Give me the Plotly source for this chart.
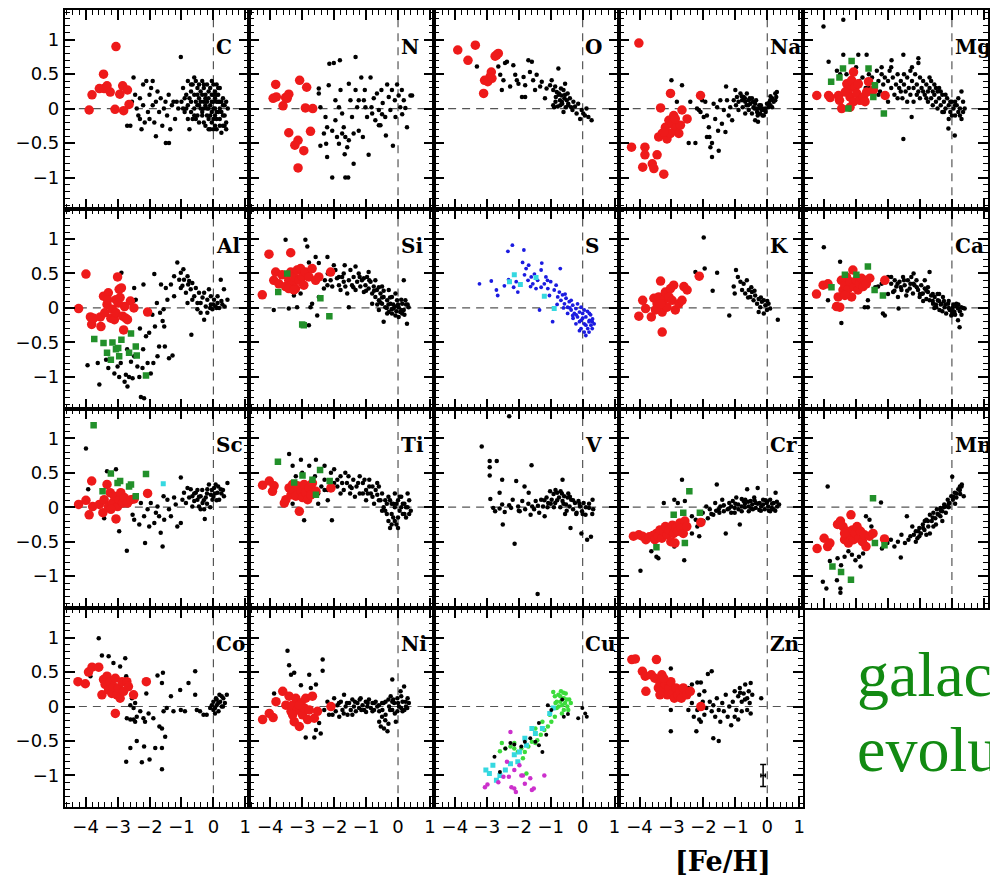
import plotly.graph_objects as go

# ---------------------------------------------------------------------------
# Abundance ratios [X/Fe] versus metallicity [Fe/H], one panel per element.
# Each list holds (x, y) = ([Fe/H], [X/Fe]) pairs.
# ---------------------------------------------------------------------------

C_RED = [(-3.89, -0.02), (-3.80, 0.20), (-3.57, 0.29), (-3.44, 0.50), (-3.42, 0.29), (-3.33, 0.33),
         (-3.23, 0.24), (-3.05, 0.90), (-3.08, -0.01), (-2.93, 0.21), (-2.84, 0.33), (-2.81, -0.03),
         (-2.69, 0.27), (-2.64, 0.06)]
C_BLACK = [(-2.7, -0.25), (-2.6, -0.25), (-2.55, 0.1), (-2.5, 0.45), (-2.45, 0.2), (-2.4, 0.0), (-2.35, -0.1),
           (-2.3, 0.15), (-2.25, -0.3), (-2.2, 0.05), (-2.2, 0.35), (-2.1, 0.4), (-2.05, -0.05), (-2.0, 0.2),
           (-2.0, -0.15), (-1.95, 0.3), (-1.9, 0.05), (-1.85, -0.2), (-1.8, 0.1), (-1.8, -0.4), (-1.75, 0.25),
           (-1.7, -0.05), (-1.65, 0.15), (-1.6, -0.25), (-1.55, 0.0), (-1.5, 0.1), (-1.45, -0.1), (-1.4, 0.2),
           (-1.35, -0.3), (-1.3, 0.05), (-1.25, 0.1), (-1.2, -0.15), (-1.15, 0.1), (-1.1, 0.0), (-1.02, 0.75),
           (-1.49, -0.5), (-1.39, -0.5), (-2.15, -0.2), (-2.3, -0.15), (-1.9, 0.4),
           (-1.0, 0.1), (-0.95, 0.3), (-0.9, -0.05), (-0.85, 0.2), (-0.8, 0.4), (-0.8, 0.05), (-0.75, -0.3),
           (-0.7, 0.25), (-0.7, 0.1), (-0.65, 0.35), (-0.6, -0.1), (-0.6, 0.2), (-0.55, 0.4), (-0.5, 0.05),
           (-0.5, 0.3), (-0.45, -0.2), (-0.45, 0.15), (-0.4, 0.25), (-0.4, 0.0), (-0.35, 0.4), (-0.35, -0.1),
           (-0.3, 0.1), (-0.3, 0.3), (-0.25, -0.25), (-0.25, 0.2), (-0.2, 0.0), (-0.2, 0.35), (-0.15, 0.15),
           (-0.15, -0.15), (-0.1, 0.3), (-0.1, 0.05), (-0.05, -0.05), (-0.05, 0.2), (0.0, -0.3), (0.0, 0.1),
           (0.05, 0.0), (0.05, 0.25), (0.1, -0.15), (0.1, 0.1), (0.15, -0.05), (0.15, 0.2), (0.2, 0.0),
           (0.2, -0.25), (0.25, 0.1), (0.3, -0.1), (0.35, 0.05), (0.4, -0.2), (-0.05, -0.2), (0.0, 0.35),
           (-0.3, -0.2), (-0.55, -0.15), (0.1, -0.3), (0.25, -0.35), (0.45, 0.0),
           (-0.6, 0.0), (-0.5, -0.1), (-0.4, 0.1), (-0.3, 0.0), (-0.2, 0.1), (-0.1, -0.1), (0.0, 0.0),
           (0.1, 0.2), (0.2, 0.1), (0.3, 0.15), (-0.15, 0.0), (0.05, 0.15), (0.1, -0.05), (-0.25, 0.05),
           (-0.35, 0.2), (-0.45, 0.35), (-0.7, -0.05), (-0.85, 0.0), (0.0, -0.15), (0.2, -0.15), (0.3, 0.05),
           (-0.1, -0.3), (0.35, -0.25), (-0.05, 0.4), (0.15, 0.3), (-0.6, 0.45), (-0.9, 0.15), (0.4, 0.1),
           (-0.95, 0.0), (-0.75, 0.15), (-0.65, -0.15), (-0.55, 0.1), (-0.45, 0.05), (-0.35, -0.05),
           (-0.25, 0.15), (-0.15, 0.25), (-0.05, 0.1), (0.05, -0.1), (0.15, 0.1), (0.25, -0.05), (0.35, -0.1),
           (-0.2, -0.1), (0.0, 0.2), (0.1, 0.35), (0.2, 0.3), (-0.3, 0.35), (-0.5, 0.2), (-0.7, 0.35),
           (0.3, -0.25), (0.05, -0.25), (-0.15, -0.3), (0.4, -0.3), (-0.8, -0.15)]

N_RED = [(-3.83, 0.35), (-3.91, 0.15), (-3.81, 0.17), (-3.60, 0.04), (-3.52, 0.16), (-3.42, 0.21),
         (-3.08, 0.41), (-2.86, 0.31), (-2.90, 0.01), (-2.67, 0.0), (-3.42, -0.35), (-3.13, -0.46),
         (-3.23, -0.53), (-2.95, -0.61), (-2.74, -0.33), (-3.13, -0.86), (-3.47, 0.15)]
N_BLACK = [(-2.15, 0.65), (-2.01, 0.66), (-1.82, 0.70), (-1.33, 0.75), (-2.48, 0.29), (-2.17, 0.34), (-2.43, 0.02),
           (-2.27, -0.12), (-2.22, -0.27), (-2.25, -0.51), (-2.43, -0.54), (-2.22, -0.70), (-2.06, -1.0),
           (-1.65, -1.0), (-1.56, -1.0), (-1.96, 0.12), (-1.85, 0.02), (-1.75, -0.07), (-1.80, 0.27),
           (-1.70, -0.27), (-1.65, -0.41), (-1.59, -0.56), (-1.67, -0.66), (-1.54, 0.36), (-1.49, 0.12),
           (-1.44, -0.12), (-1.39, -0.80), (-1.33, 0.27), (-1.28, 0.02), (-1.23, -0.32), (-1.15, 0.45),
           (-1.07, 0.12), (-1.04, 0.27), (-0.97, -0.12), (-0.92, -0.67), (-0.86, 0.45), (-0.83, 0.02),
           (-0.81, -0.07), (-0.76, 0.15), (-0.71, -0.17), (-0.66, 0.22), (-0.60, -0.02), (-0.55, -0.24),
           (-0.52, 0.27), (-0.48, 0.08), (-0.40, -0.12), (-0.38, -0.39), (-0.34, 0.35), (-0.29, 0.17),
           (-0.24, -0.02), (-0.19, 0.27), (-0.16, -0.54), (-0.10, 0.12), (-0.08, -0.12), (-0.03, 0.35),
           (0.02, 0.19), (0.07, 0.02), (0.13, -0.08), (0.18, 0.12), (0.28, -0.27), (0.39, 0.19), (0.44, 0.19),
           (-2.06, -0.32), (-1.91, -0.41), (-1.85, -0.51), (-1.75, -0.36), (-1.39, -0.36), (-1.10, -0.41),
           (-1.23, 0.12), (-1.02, 0.02), (-2.48, 0.22), (-2.32, -0.36), (-1.96, -0.17), (-1.54, -0.46),
           (-0.60, -0.24), (-0.50, -0.08), (0.23, 0.01), (0.12, 0.27)]

O_RED = [(-3.91, 0.85), (-3.59, 0.70), (-3.36, 0.92), (-2.69, 0.78), (-2.64, 0.80), (-2.86, 0.53), (-2.90, 0.46),
         (-3.07, 0.41), (-2.97, 0.39), (-3.10, 0.22), (-2.84, 0.44), (-2.74, 0.76)]
O_BLACK = [(-3.31, 0.61), (-2.64, 0.61), (-2.58, 0.49), (-2.43, 0.66), (-2.37, 0.68), (-2.53, 0.27), (-2.27, 0.32),
           (-2.17, 0.63), (-2.11, 0.49), (-2.06, 0.41), (-2.01, 0.36), (-1.90, 0.17), (-1.85, 0.46), (-1.80, 0.34),
           (-1.70, 0.70), (-1.59, 0.68), (-1.65, 0.53), (-1.55, 0.41), (-1.49, 0.27), (-1.44, 0.49), (-1.33, 0.32),
           (-1.28, 0.39), (-1.18, 0.15), (-1.13, 0.29), (-1.02, 0.34), (-0.97, 0.41), (-0.92, 0.27), (-0.86, 0.32),
           (-0.84, 0.17), (-0.81, 0.24), (-0.76, 0.58), (-0.74, 0.22), (-0.71, 0.12), (-0.68, 0.29), (-0.66, 0.19),
           (-0.64, 0.07), (-0.60, 0.27), (-0.57, 0.15), (-0.55, 0.36), (-0.53, 0.02), (-0.50, 0.12), (-0.47, 0.22),
           (-0.45, 0.07), (-0.40, 0.15), (-0.36, 0.02), (-0.32, -0.02), (-0.29, 0.10), (-0.24, 0.03),
           (-0.19, -0.07), (-0.14, 0.07), (-0.08, -0.15), (-0.03, -0.02), (0.02, -0.07), (0.07, -0.10),
           (0.12, 0.0), (0.18, -0.12), (0.28, -0.17), (-0.92, 0.05), (-0.89, 0.02), (-0.78, 0.03), (-2.48, 0.41),
           (-1.80, 0.17), (-0.85, 0.1), (-0.75, 0.2), (-0.65, 0.1), (-0.55, 0.2), (-0.45, 0.05), (-0.6, -0.05),
           (-0.7, 0.05)]

NA_RED = [(-4.02, 0.95), (-4.25, -0.56), (-3.83, -0.56), (-3.83, -0.67), (-3.90, -0.85), (-3.60, -0.80),
          (-3.55, -0.87), (-3.45, -0.67), (-3.24, -0.95), (-3.34, 0.01), (-3.03, 0.22), (-3.40, -0.41),
          (-3.29, -0.36), (-3.19, -0.27), (-3.08, -0.17), (-3.14, -0.44), (-2.98, -0.22), (-2.93, -0.10),
          (-2.88, -0.29), (-2.77, -0.36), (-2.72, -0.24), (-2.67, -0.02), (-2.51, -0.15), (-2.09, 0.19),
          (-3.03, -0.36), (-3.24, -0.34), (-2.88, -0.15)]
NA_BLACK = [(-3.0, 0.41), (-2.67, 0.34), (-2.83, 0.10), (-2.41, 0.10), (-2.46, -0.50), (-2.25, -0.50), (-2.20, 0.0),
            (-2.09, -0.05), (-2.04, 0.12), (-1.94, 0.10), (-1.89, -0.10), (-1.83, -0.27), (-1.81, -0.41),
            (-1.78, -0.56), (-1.73, -0.70), (-1.68, 0.07), (-1.63, -0.15), (-1.57, 0.02), (-1.54, -0.32),
            (-1.52, -0.61), (-1.47, 0.12), (-1.42, -0.22), (-1.36, -0.02), (-1.31, -0.34), (-1.29, 0.32),
            (-1.26, 0.12), (-1.21, -0.10), (-1.16, 0.02), (-1.10, -0.17), (-1.05, 0.12), (-1.0, 0.27),
            (-0.98, 0.05), (-0.95, 0.17), (-0.90, 0.10), (-0.84, 0.22), (-0.79, 0.12), (-0.74, 0.17),
            (-0.69, 0.10), (-0.64, 0.22), (-0.58, 0.12), (-0.53, 0.07), (-0.48, 0.15), (-0.43, 0.02),
            (-0.38, 0.07), (-0.32, -0.05), (-0.27, 0.0), (-0.22, -0.07), (-0.17, -0.02), (-0.11, -0.10),
            (-0.06, 0.0), (-0.01, 0.07), (0.04, 0.02), (0.09, 0.12), (0.15, 0.15), (0.20, 0.10), (0.25, 0.22),
            (0.30, 0.24), (0.28, 0.17), (-0.29, -0.19), (-0.38, -0.17), (-0.69, -0.07), (-0.77, 0.02),
            (-0.58, -0.02), (-0.48, -0.07), (-0.90, -0.02), (-0.22, 0.02), (-0.11, -0.02), (-1.89, -0.41),
            (-1.73, -0.50), (-1.99, -0.12), (-2.14, -0.02), (-0.6, 0.05), (-0.4, 0.0), (-0.2, 0.05),
            (-0.7, 0.15), (-0.35, 0.12), (0.1, 0.05), (-0.55, 0.15), (-0.45, 0.1), (-0.35, 0.0), (-0.25, 0.05),
            (-0.15, 0.0), (-0.05, -0.05), (0.05, 0.08), (0.15, 0.02), (0.25, 0.12), (-0.65, 0.05), (-0.8, 0.18),
            (-0.3, -0.1), (-0.15, -0.1), (0.1, 0.18)]

MG_RED = [(-4.23, 0.19), (-3.86, 0.19), (-3.81, 0.16), (-3.55, 0.19), (-3.52, 0.12), (-3.45, 0.0), (-3.29, 0.36),
          (-3.24, 0.27), (-3.19, 0.17), (-3.14, 0.41), (-3.08, 0.53), (-3.03, 0.31), (-2.98, 0.22), (-2.93, 0.36),
          (-3.08, 0.10), (-2.88, 0.12), (-2.77, 0.17), (-2.72, 0.10), (-2.67, 0.24), (-2.61, 0.39), (-2.46, 0.27),
          (-2.09, 0.19), (-3.34, 0.24), (-3.19, 0.02)]
MG_GREEN = [(-3.78, 0.39), (-3.41, 0.58), (-3.14, 0.69), (-3.52, 0.45), (-2.61, 0.58), (-2.41, 0.34), (-3.24, 0.0),
            (-2.13, -0.07), (-2.46, 0.17)]
MG_BLACK = [(-4.02, 1.19), (-3.40, 1.29), (-1.52, -0.44), (-1.26, -0.12), (-0.11, -0.29), (0.09, -0.39),
            (-3.86, 0.68), (-3.40, 0.78), (-2.93, 0.78), (-2.67, 0.78), (-1.52, 0.78), (-1.05, 0.73), (-1.05, 0.66),
            (-1.89, 0.70), (-2.6, 0.5), (-2.5, 0.45), (-2.4, 0.3), (-2.35, 0.55), (-2.3, 0.4), (-2.25, 0.25),
            (-2.2, 0.5), (-2.15, 0.35), (-2.1, 0.45), (-2.05, 0.2), (-2.0, 0.4), (-1.95, 0.55), (-1.9, 0.3),
            (-1.85, 0.45), (-1.8, 0.2), (-1.75, 0.35), (-1.7, 0.5), (-1.65, 0.3), (-1.6, 0.4), (-1.55, 0.15),
            (-1.5, 0.35), (-1.45, 0.25), (-1.4, 0.45), (-1.35, 0.3), (-1.3, 0.2), (-1.25, 0.4), (-1.2, 0.3),
            (-1.15, 0.5), (-1.1, 0.35), (-1.05, 0.25), (-1.0, 0.45), (-0.95, 0.3), (-0.9, 0.4), (-0.85, 0.2),
            (-0.8, 0.35), (-0.75, 0.25), (-0.7, 0.3), (-0.65, 0.15), (-0.6, 0.25), (-0.55, 0.2), (-0.5, 0.1),
            (-0.45, 0.25), (-0.4, 0.15), (-0.35, 0.05), (-0.3, 0.2), (-0.25, 0.1), (-0.2, 0.0), (-0.15, 0.15),
            (-0.1, 0.05), (-0.05, -0.05), (0.0, 0.1), (0.05, 0.0), (0.1, -0.1), (0.15, 0.05), (0.2, -0.05),
            (0.25, 0.0), (0.3, -0.15), (0.35, 0.1), (0.4, 0.0), (-0.3, -0.05), (-0.5, 0.3), (-1.0, 0.15),
            (-1.5, 0.5), (-2.0, 0.1), (-2.7, 0.3), (-2.8, 0.45), (-3.0, 0.6), (-3.3, 0.5), (-3.5, 0.5),
            (-3.6, 0.55), (0.3, 0.25), (0.2, 0.15), (0.0, -0.1), (-0.1, -0.15), (-0.6, 0.05), (-0.8, 0.15),
            (-1.2, 0.1), (-1.7, 0.15), (-0.4, 0.3), (-0.2, 0.2), (0.1, 0.1), (-0.7, 0.45), (-1.3, 0.55),
            (-2.9, 0.4), (-2.6, 0.3), (-2.3, 0.2), (-2.2, 0.6), (-1.9, 0.6), (-1.6, 0.25), (-1.4, 0.1),
            (-1.1, 0.2), (-0.9, 0.25), (-0.75, 0.1), (-0.55, 0.35), (-0.35, 0.25), (-0.25, -0.05), (-0.05, 0.1),
            (0.1, 0.05), (0.25, -0.1), (0.35, -0.05), (-0.45, 0.0), (-0.65, 0.4), (-1.25, 0.6)]

AL_RED = [(-4.22, -0.01), (-3.99, 0.49), (-3.85, -0.13), (-3.81, -0.24), (-3.75, -0.15), (-3.54, -0.13),
          (-3.52, -0.27), (-3.44, 0.17), (-3.40, -0.07), (-3.33, 0.05), (-3.29, 0.22), (-3.21, -0.15),
          (-3.16, -0.02), (-3.10, -0.17), (-3.05, 0.12), (-3.05, -0.07), (-3.0, 0.45), (-2.95, 0.27),
          (-2.92, 0.15), (-2.88, 0.29), (-2.84, -0.12), (-2.81, -0.32), (-2.78, 0.02), (-2.74, -0.15),
          (-2.69, -0.17), (-2.60, 0.10), (-2.49, 0.0), (-2.06, -0.06), (-3.31, 0.12), (-2.98, 0.07)]
AL_GREEN = [(-3.73, -0.45), (-3.44, -0.51), (-3.33, -0.65), (-3.16, -0.50), (-3.05, -0.60), (-2.98, -0.58),
            (-3.21, -0.75), (-2.88, -0.46), (-2.64, -0.65), (-2.58, -0.37), (-2.43, -0.56), (-2.40, -0.69),
            (-2.11, -0.98), (-2.95, -0.70)]
AL_BLACK = [(-3.94, -0.83), (-3.57, -1.11), (-3.62, -0.80), (-3.36, -0.75), (-3.29, -0.87), (-3.10, -0.95),
            (-2.95, -1.0), (-2.90, -0.80), (-2.88, 0.51), (-2.78, -1.07), (-2.74, -0.97), (-2.69, -1.14),
            (-2.64, -1.0), (-2.58, -0.78), (-2.53, -1.02), (-2.48, 0.29), (-2.48, -0.70), (-2.43, 0.12),
            (-2.38, -0.85), (-2.32, -1.0), (-2.27, -1.29), (-2.22, -0.87), (-2.19, 0.34), (-2.17, -1.31),
            (-2.11, -0.41), (-2.06, -0.80), (-2.01, -0.36), (-1.96, -0.95), (-1.91, -0.10), (-1.88, -0.80),
            (-1.85, 0.49), (-1.83, -0.27), (-1.77, 0.07), (-1.75, -0.70), (-1.70, -0.56), (-1.67, -0.07),
            (-1.64, 0.34), (-1.59, -0.19), (-1.56, -0.02), (-1.54, -0.27), (-1.52, -0.56), (-1.49, 0.29),
            (-1.44, 0.12), (-1.39, -0.73), (-1.33, 0.34), (-1.28, -0.69), (-1.23, 0.46), (-1.13, 0.66),
            (-1.07, 0.41), (-1.02, 0.51), (-0.97, 0.32), (-0.94, 0.56), (-0.92, 0.41), (-0.86, 0.22),
            (-0.81, 0.46), (-0.79, 0.34), (-0.76, 0.39), (-0.71, 0.27), (-0.69, -0.39), (-0.66, 0.36),
            (-0.60, 0.17), (-0.55, 0.29), (-0.50, 0.07), (-0.45, 0.22), (-0.40, -0.07), (-0.34, 0.15),
            (-0.29, -0.17), (-0.24, 0.02), (-0.19, 0.12), (-0.14, 0.27), (-0.08, 0.05), (-0.03, -0.02),
            (0.02, 0.12), (0.07, 0.02), (0.13, 0.07), (0.18, 0.0), (0.23, 0.41), (0.28, 0.05), (0.33, 0.27),
            (0.44, 0.12), (-0.19, -0.07), (-0.40, 0.07), (-0.50, -0.02), (-0.29, 0.22), (0.13, 0.17),
            (-0.08, 0.17), (-0.66, 0.12), (-0.81, 0.07), (-1.02, 0.29), (-1.23, 0.17), (-2.5, 0.1),
            (-2.3, -0.3), (-2.7, -0.6), (-3.0, -0.85), (-2.2, -0.6), (0.0, 0.05), (0.1, 0.0), (0.25, 0.1),
            (-0.1, 0.0), (0.35, 0.02)]

SI_RED = [(-4.25, 0.19), (-4.04, 0.78), (-3.36, 0.80), (-3.89, 0.40), (-3.83, 0.52), (-3.73, 0.35), (-3.63, 0.48),
          (-3.52, 0.31), (-3.42, 0.40), (-3.36, 0.52), (-3.31, 0.35), (-3.26, 0.45), (-3.21, 0.28), (-3.16, 0.55),
          (-3.10, 0.40), (-3.05, 0.57), (-3.0, 0.45), (-2.95, 0.33), (-2.90, 0.52), (-2.79, 0.45), (-2.69, 0.57),
          (-2.58, 0.40), (-2.48, 0.45), (-2.11, 0.52), (-3.42, 0.28), (-3.26, 0.26)]
SI_GREEN = [(-3.75, 0.23), (-3.47, 0.50), (-2.43, 0.14), (-2.15, -0.12), (-3.0, -0.24), (-2.95, -0.25)]
SI_BLACK = [(-3.52, 0.99), (-2.90, 0.99), (-2.84, 0.89), (-2.58, 0.74), (-2.21, 0.74), (-2.48, 0.65), (-2.79, 0.66),
            (-3.89, -0.03), (-3.42, -0.01), (-3.16, 0.01), (-2.74, 0.01), (-2.69, 0.06), (-2.53, -0.11),
            (-2.79, -0.25), (-3.26, 0.18), (-3.05, 0.21), (-2.48, 0.16), (-2.32, 0.28), (-2.29, 0.40),
            (-2.21, 0.33), (-2.11, 0.40), (-2.06, 0.31), (-1.96, 0.55), (-1.91, 0.43), (-1.85, 0.33),
            (-1.80, 0.26), (-1.75, 0.45), (-1.70, 0.38), (-1.67, 0.62), (-1.65, 0.31), (-1.59, 0.21),
            (-1.54, 0.40), (-1.49, 0.55), (-1.44, 0.33), (-1.39, 0.45), (-1.33, 0.26), (-1.28, 0.38),
            (-1.23, 0.50), (-1.18, 0.31), (-1.13, 0.40), (-1.07, 0.23), (-1.02, 0.33), (-0.97, 0.45),
            (-0.92, 0.28), (-0.86, 0.38), (-0.81, 0.21), (-0.76, 0.31), (-0.71, 0.16), (-0.66, 0.26),
            (-0.60, 0.11), (-0.55, 0.21), (-0.50, 0.06), (-0.45, 0.16), (-0.40, 0.01), (-0.34, 0.11),
            (-0.29, -0.06), (-0.24, 0.06), (-0.19, 0.16), (-0.14, -0.01), (-0.08, -0.11), (-0.03, 0.11),
            (0.02, 0.01), (0.07, -0.06), (0.13, 0.06), (0.18, 0.40), (0.23, 0.11), (0.28, -0.23), (0.33, 0.01),
            (-0.45, -0.20), (0.02, -0.13), (-0.60, -0.03), (-0.81, 0.06), (-0.34, -0.08), (-0.19, -0.08),
            (0.13, -0.08), (0.18, -0.03), (-1.54, 0.01), (-2.01, 0.62), (-1.33, 0.60), (-0.92, 0.52),
            (-0.71, 0.40), (-0.50, 0.31), (-0.29, 0.26), (-0.08, 0.21), (-1.07, 0.43), (-0.3, 0.05),
            (-0.1, 0.02), (0.1, 0.12), (-0.2, -0.02), (0.25, 0.05), (-0.55, 0.08),
            (-1.7, 0.5), (-1.4, 0.3), (-1.2, 0.45), (-1.0, 0.25), (-0.9, 0.4), (-0.75, 0.25), (-0.6, 0.3),
            (-0.45, 0.25), (-0.35, 0.0), (-0.25, 0.15), (-0.15, 0.05), (0.0, 0.05), (0.1, -0.03), (0.2, -0.1),
            (0.3, 0.05), (-0.05, -0.05), (-0.5, 0.15), (-0.65, 0.05), (-1.85, 0.45), (-2.2, 0.5)]

S_BLUE = [(-3.23, 0.35), (-2.86, 0.39), (-2.70, 0.26), (-2.66, 0.18), (-2.45, 0.32), (-2.34, 0.82), (-2.32, 0.41),
          (-2.20, 0.91), (-2.16, 0.30), (-2.08, 0.38), (-2.03, 0.23), (-1.88, 0.66), (-1.84, 0.84), (-1.82, 0.48),
          (-1.77, 0.57), (-1.71, 0.40), (-1.69, 0.62), (-1.63, 0.31), (-1.61, 0.45), (-1.56, 0.35), (-1.51, 0.49),
          (-1.46, 0.28), (-1.41, 0.40), (-1.35, -0.03), (-1.30, 0.55), (-1.28, 0.65), (-1.20, 0.35), (-1.15, 0.45),
          (-1.09, 0.28), (-1.04, 0.18), (-1.0, 0.38), (-0.94, -0.20), (-0.89, 0.26), (-0.83, 0.33), (-0.78, 0.16),
          (-0.73, 0.23), (-0.70, 0.57), (-0.68, 0.11), (-0.63, 0.19), (-0.57, 0.06), (-0.52, 0.14), (-0.47, 0.01),
          (-0.42, 0.09), (-0.36, -0.03), (-0.31, 0.04), (-0.26, -0.08), (-0.21, -0.01), (-0.16, -0.13),
          (-0.10, -0.06), (-0.05, -0.18), (0.0, -0.08), (0.05, -0.23), (0.10, -0.13), (0.16, -0.30),
          (0.21, -0.18), (0.26, -0.25), (0.31, -0.16), (0.36, -0.23), (0.10, -0.40), (-0.10, -0.33),
          (-0.21, -0.23), (-0.05, 0.01), (0.05, -0.03), (0.21, -0.08), (-0.36, 0.11), (-0.16, 0.06),
          (-0.31, -0.11), (-0.47, -0.08), (-0.2, -0.1), (-0.1, -0.2), (0.0, -0.15), (0.1, -0.25), (0.2, -0.2),
          (0.3, -0.3), (0.25, -0.1), (0.15, -0.05), (-0.05, -0.3), (0.05, -0.35), (-0.3, -0.15), (-0.4, 0.0),
          (0.3, -0.2), (0.2, -0.35), (-0.6, 0.0), (-0.55, 0.2), (-0.8, 0.05), (-1.1, 0.4), (-1.3, 0.3)]
S_CYAN = [(-2.14, 0.48), (-1.95, 0.34), (-1.46, 0.44), (-1.20, 0.17), (-0.89, -0.01), (-2.29, 0.38)]

K_RED = [(-4.02, -0.12), (-3.90, 0.11), (-3.81, -0.01), (-3.63, -0.13), (-3.55, 0.14), (-3.45, 0.06), (-3.40, 0.16),
         (-3.34, 0.39), (-3.29, -0.06), (-3.29, -0.35), (-3.24, 0.11), (-3.19, 0.23), (-3.14, 0.01), (-3.08, 0.16),
         (-3.03, 0.28), (-2.98, 0.11), (-2.93, 0.33), (-2.88, -0.03), (-2.77, 0.06), (-2.67, 0.11), (-2.61, 0.31),
         (-2.51, 0.26), (-2.13, 0.46), (-3.50, -0.03), (-3.34, 0.06)]
K_BLACK = [(-1.99, 1.02), (-2.25, 0.52), (-1.96, 0.57), (-1.57, 0.51), (-1.71, 0.25), (-1.19, -0.11), (-0.98, 0.55),
           (-1.05, 0.31), (-0.92, 0.45), (-0.84, 0.38), (-0.79, 0.26), (-0.74, 0.35), (-0.69, 0.21), (-0.64, 0.40),
           (-0.58, 0.26), (-0.53, 0.16), (-0.48, 0.23), (-0.43, 0.11), (-0.38, 0.18), (-0.32, 0.06), (-0.27, 0.13),
           (-0.22, 0.01), (-0.17, 0.09), (-0.11, -0.08), (-0.06, 0.04), (-0.01, -0.03), (0.04, 0.06),
           (0.09, -0.01), (0.33, -0.17), (-0.27, -0.06), (-0.11, 0.11), (-1.02, 0.21), (-0.6, 0.15),
           (-0.4, 0.25), (-0.2, 0.15), (-0.5, 0.3), (0.0, 0.1)]

CA_RED = [(-4.24, 0.20), (-4.03, 0.33), (-3.88, 0.35), (-3.56, 0.16), (-3.51, 0.01), (-3.61, 0.02), (-3.46, 0.40),
          (-3.41, 0.26), (-3.35, 0.33), (-3.30, 0.45), (-3.24, 0.28), (-3.19, 0.38), (-3.14, 0.16), (-3.10, 0.55),
          (-3.06, 0.31), (-2.99, 0.40), (-2.94, 0.26), (-2.89, 0.35), (-2.83, 0.43), (-2.78, 0.31), (-2.73, 0.40),
          (-2.68, 0.35), (-2.57, 0.43), (-2.10, 0.40), (-3.35, 0.18)]
CA_GREEN = [(-2.63, 0.60), (-3.77, 0.30), (-2.42, 0.26), (-2.16, 0.18), (-2.99, 0.48), (-3.35, 0.48)]
CA_BLACK = [(-4.01, 0.88), (-3.46, -0.22), (-3.50, 0.67), (-3.88, 0.11), (-2.63, 0.01), (-2.73, 0.01), (-2.63, 0.11),
            (-2.16, -0.08), (-2.10, -0.11), (-2.31, 0.31), (-2.0, 0.45), (-1.90, 0.35), (-1.84, 0.23),
            (-1.79, 0.40), (-1.74, 0.31), (-1.69, 0.16), (-1.67, -0.01), (-1.64, 0.38), (-1.58, 0.26),
            (-1.53, 0.45), (-1.48, 0.33), (-1.43, 0.18), (-1.38, 0.40), (-1.32, 0.28), (-1.27, 0.45),
            (-1.22, 0.21), (-1.17, 0.33), (-1.11, 0.40), (-1.06, 0.26), (-1.01, 0.16), (-0.96, 0.33),
            (-0.91, 0.21), (-0.85, 0.28), (-0.80, 0.13), (-0.75, 0.23), (-0.70, 0.52), (-0.70, 0.11),
            (-0.65, 0.18), (-0.59, 0.06), (-0.54, 0.16), (-0.49, 0.01), (-0.44, 0.11), (-0.39, -0.03),
            (-0.33, 0.06), (-0.28, 0.16), (-0.23, 0.01), (-0.18, -0.08), (-0.12, 0.06), (-0.07, -0.03),
            (-0.02, -0.11), (0.03, 0.01), (0.08, -0.06), (0.14, 0.06), (0.19, -0.01), (0.24, -0.28),
            (0.29, 0.01), (0.40, -0.01), (0.19, -0.18), (-1.2, 0.35), (-1.0, 0.2), (-0.8, 0.25), (-0.6, 0.2),
            (-0.4, 0.1), (-0.2, 0.05), (0.0, -0.05), (0.2, 0.05), (-1.6, 0.3), (-1.8, 0.25), (-0.9, 0.1),
            (-0.5, 0.05), (-0.3, -0.05), (0.1, -0.1), (0.3, -0.1), (-2.2, 0.35), (-2.4, 0.3), (-2.0, 0.2),
            (-0.1, 0.0), (0.05, 0.05), (-0.45, 0.2), (-1.4, 0.25),
            (-1.9, 0.45), (-1.7, 0.35), (-1.5, 0.4), (-1.3, 0.35), (-1.1, 0.3), (-0.95, 0.2), (-0.75, 0.3),
            (-0.6, 0.1), (-0.4, 0.2), (-0.25, 0.1), (-0.1, 0.1), (0.05, -0.05), (0.15, 0.02), (0.25, -0.05),
            (0.35, 0.0), (-0.55, 0.0), (-0.35, 0.05), (0.0, -0.1), (-1.2, 0.5), (-0.85, 0.4)]

SC_RED = [(-4.22, 0.04), (-3.99, 0.10), (-3.89, -0.11), (-3.81, 0.38), (-3.78, 0.01), (-3.57, 0.04), (-3.46, -0.08),
          (-3.42, 0.11), (-3.33, 0.33), (-3.29, 0.01), (-3.23, 0.21), (-3.16, 0.06), (-3.10, 0.16), (-3.05, -0.17),
          (-3.0, 0.01), (-2.95, 0.11), (-2.90, 0.21), (-2.84, 0.06), (-2.79, 0.14), (-2.69, 0.06), (-2.58, 0.11),
          (-2.48, 0.12), (-2.06, 0.20), (-3.21, -0.03)]
SC_GREEN = [(-3.75, 1.19), (-3.47, 0.23), (-3.21, 0.49), (-3.0, 0.35), (-2.92, 0.38), (-2.64, 0.30), (-2.58, 0.33),
            (-2.43, 0.16), (-2.11, 0.48)]
SC_CYAN = [(-1.57, 0.34)]
SC_BLACK = [(-3.99, 0.85), (-3.92, 0.26), (-3.42, -0.16), (-3.33, 0.52), (-3.05, 0.55), (-2.95, -0.35),
            (-2.71, -0.63), (-2.53, -0.11), (-2.48, -0.18), (-2.32, -0.25), (-2.27, 0.06), (-2.17, -0.13),
            (-2.14, -0.52), (-2.06, -0.03), (-2.01, -0.28), (-1.96, 0.06), (-1.85, -0.23), (-1.80, -0.08),
            (-1.75, 0.01), (-1.70, -0.13), (-1.65, -0.37), (-1.59, -0.57), (-1.56, 0.16), (-1.54, -0.18),
            (-1.44, 0.11), (-1.39, -0.03), (-1.33, -0.13), (-1.23, 0.14), (-1.18, 0.04), (-1.13, -0.28),
            (-1.02, 0.43), (-1.02, -0.23), (-0.97, 0.11), (-0.92, 0.21), (-0.86, 0.06), (-0.81, 0.28),
            (-0.76, 0.14), (-0.71, 0.26), (-0.66, 0.16), (-0.60, 0.09), (-0.55, 0.21), (-0.50, 0.11),
            (-0.45, 0.01), (-0.40, 0.16), (-0.34, 0.06), (-0.29, -0.03), (-0.24, 0.14), (-0.19, 0.26),
            (-0.14, 0.33), (-0.08, 0.18), (-0.03, 0.11), (0.02, 0.28), (0.07, 0.33), (0.13, 0.21), (0.18, 0.11),
            (0.23, 0.26), (0.33, 0.16), (0.44, 0.35), (-0.27, -0.17), (-0.40, -0.03), (-0.66, 0.01),
            (-0.2, 0.05), (0.0, 0.15), (-0.5, 0.25), (-0.1, 0.0), (0.25, 0.2), (-0.6, 0.2), (-0.45, 0.15),
            (-0.3, 0.1), (-0.2, 0.2), (-0.05, 0.25), (0.05, 0.2), (0.15, 0.3), (0.3, 0.25), (-0.35, 0.25),
            (0.1, 0.1)]

TI_RED = [(-4.24, 0.32), (-4.03, 0.38), (-3.88, 0.31), (-3.93, 0.23), (-3.56, 0.06), (-3.51, 0.11), (-3.41, 0.28),
          (-3.35, 0.18), (-3.30, 0.33), (-3.25, 0.23), (-3.20, 0.16), (-3.15, 0.31), (-3.09, -0.06), (-3.04, 0.23),
          (-2.99, 0.14), (-2.94, 0.33), (-2.89, 0.21), (-2.83, 0.11), (-2.78, 0.28), (-2.73, 0.18), (-2.68, 0.35),
          (-2.57, 0.23), (-2.10, 0.28)]
TI_GREEN = [(-3.76, 0.66), (-3.25, 0.36), (-2.99, 0.46), (-2.68, 0.40), (-2.44, 0.54), (-2.57, 0.18), (-2.14, 0.38)]
TI_BLACK = [(-3.41, 0.77), (-3.30, 0.60), (-3.04, 0.69), (-2.78, 0.60), (-2.57, 0.69), (-2.94, -0.19), (-2.07, -0.19),
            (-2.4, 0.3), (-2.3, 0.4), (-2.2, 0.25), (-2.1, 0.5), (-2.0, 0.35), (-1.9, 0.3), (-1.8, 0.45),
            (-1.7, 0.25), (-1.6, 0.35), (-1.5, 0.2), (-1.4, 0.4), (-1.3, 0.3), (-1.2, 0.2), (-1.1, 0.35),
            (-1.0, 0.25), (-0.9, 0.3), (-0.8, 0.15), (-0.7, 0.25), (-0.6, 0.1), (-0.5, 0.2), (-0.45, 0.0),
            (-0.4, 0.1), (-0.35, -0.1), (-0.3, -0.2), (-0.25, -0.3), (-0.2, 0.05), (-0.15, -0.15), (-0.1, 0.0),
            (-0.05, -0.25), (0.0, 0.1), (0.05, -0.05), (0.1, 0.0), (0.15, -0.1), (0.2, 0.05), (0.25, -0.15),
            (0.3, 0.0), (0.35, 0.1), (0.4, -0.05), (-0.6, 0.3), (-0.9, 0.4), (-1.2, 0.45), (-1.5, 0.3),
            (-1.8, 0.2), (-2.2, 0.1), (-2.5, 0.2), (-0.5, -0.05), (-0.3, 0.15), (-0.1, 0.2), (0.1, 0.15),
            (0.3, 0.2), (-0.2, -0.25), (0.0, -0.15), (-1.0, 0.1), (-0.75, 0.05), (-1.35, 0.15), (-1.65, 0.5),
            (-2.0, 0.55), (-2.3, 0.6), (-2.6, 0.45), (-2.8, 0.1), (-3.0, 0.5), (-3.2, 0.45), (-3.3, 0.05),
            (-2.5, 0.05), (-1.1, 0.2), (-0.85, 0.2), (-0.65, 0.18), (-0.4, -0.05), (-0.15, 0.05), (0.2, -0.1),
            (-1.45, 0.28), (-1.75, 0.35), (-1.9, 0.4), (-1.55, 0.45), (-1.25, 0.35), (-0.95, 0.2), (-0.65, 0.35),
            (-0.55, 0.1), (-0.35, 0.05), (-0.25, 0.1), (-0.05, 0.05), (0.05, 0.15), (0.15, 0.05), (0.25, 0.0),
            (0.35, -0.1), (-0.2, -0.1), (0.0, -0.3), (-0.1, -0.2), (-1.05, 0.4), (-0.8, 0.3), (-2.1, 0.3),
            (-2.3, 0.25)]

V_BLACK = [(-3.16, 0.88), (-2.30, 1.32), (-2.91, 0.67), (-2.69, 0.67), (-2.91, 0.58), (-2.91, 0.46), (-2.52, 0.40),
           (-2.08, 0.38), (-1.60, 0.61), (-2.89, 0.12), (-2.80, -0.01), (-2.74, -0.06), (-2.60, 0.21), (-2.52, 0.04),
           (-2.50, -0.25), (-2.44, -0.07), (-2.24, -0.01), (-2.19, 0.11), (-2.13, -0.53), (-2.02, 0.01),
           (-1.97, -0.06), (-1.89, 0.09), (-1.82, 0.30), (-1.80, -0.03), (-1.69, 0.21), (-1.63, -0.11),
           (-1.58, 0.01), (-1.52, -0.03), (-1.47, 0.09), (-1.41, -1.26), (-1.36, -0.08), (-1.30, 0.11),
           (-1.24, 0.01), (-1.19, -0.13), (-1.13, 0.14), (-1.08, 0.06), (-1.02, 0.23), (-0.97, 0.11),
           (-0.91, 0.19), (-0.86, 0.06), (-0.80, 0.21), (-0.74, 0.14), (-0.69, 0.23), (-0.63, 0.40),
           (-0.63, 0.09), (-0.58, 0.16), (-0.52, 0.04), (-0.47, 0.14), (-0.41, 0.01), (-0.38, -0.30),
           (-0.36, 0.11), (-0.30, -0.03), (-0.24, 0.06), (-0.19, -0.08), (-0.13, 0.09), (-0.08, 0.01),
           (-0.04, -0.38), (-0.02, -0.06), (0.03, 0.06), (0.09, -0.11), (0.14, -0.47), (0.20, -0.01),
           (0.26, -0.43), (0.31, 0.11), (0.33, -0.03), (-1.0, 0.05), (-0.9, 0.0), (-0.8, 0.1), (-0.7, 0.0),
           (-0.6, 0.05), (-0.5, -0.05), (-0.4, 0.15), (-0.3, 0.1), (-0.2, -0.1), (-0.1, 0.05), (0.0, -0.1),
           (0.1, 0.0), (0.2, 0.05), (0.3, -0.1), (-0.65, 0.2), (-0.85, 0.25), (-0.55, -0.1), (-0.45, 0.2),
           (-1.1, 0.0), (-1.2, 0.1), (-1.4, 0.02), (-1.7, 0.05), (-2.0, -0.05), (-2.3, 0.03), (-2.6, -0.02)]

CR_RED = [(-4.19, -0.42), (-4.02, -0.40), (-3.91, -0.42), (-3.80, -0.47), (-3.69, -0.43), (-3.58, -0.41),
          (-3.52, -0.47), (-3.47, -0.38), (-3.41, -0.42), (-3.36, -0.33), (-3.30, -0.45), (-3.24, -0.35),
          (-3.19, -0.28), (-3.13, -0.40), (-3.08, -0.33), (-3.02, -0.50), (-2.97, -0.26), (-2.93, -0.38),
          (-2.89, -0.52), (-2.86, -0.30), (-2.80, -0.35), (-2.74, -0.23), (-2.69, -0.30), (-2.63, -0.38),
          (-2.58, -0.20), (-2.52, -0.28), (-2.08, -0.22)]
CR_GREEN = [(-2.44, 0.23), (-2.93, -0.11), (-2.63, -0.08), (-2.11, -0.08), (-2.58, -0.52), (-3.47, -0.58)]
CR_BLACK = [(-3.97, -0.92), (-3.63, -0.64), (-3.47, -0.72), (-3.41, -0.74), (-2.67, 0.40), (-2.60, -0.77),
            (-3.24, 0.06), (-2.91, 0.11), (-2.80, 0.06), (-2.58, 0.09), (-2.36, -0.38), (-2.24, -0.18),
            (-2.13, -0.42), (-2.02, -0.08), (-1.91, 0.01), (-1.86, -0.16), (-1.80, -0.03), (-1.69, -0.11),
            (-1.63, 0.06), (-1.58, 0.33), (-1.52, -0.03), (-1.47, 0.01), (-1.41, 0.11), (-1.36, 0.03),
            (-1.30, -0.38), (-1.24, -0.03), (-1.19, 0.06), (-1.13, 0.01), (-1.08, 0.09), (-1.02, -0.01),
            (-0.97, 0.14), (-0.91, 0.04), (-0.86, -0.25), (-0.80, 0.01), (-0.74, 0.09), (-0.69, 0.11),
            (-0.63, 0.26), (-0.58, 0.01), (-0.52, 0.09), (-0.47, 0.04), (-0.41, 0.14), (-0.36, -0.01),
            (-0.30, 0.28), (-0.24, 0.06), (-0.19, 0.01), (-0.13, 0.11), (-0.08, -0.03), (-0.02, 0.06),
            (0.03, 0.01), (0.09, 0.11), (0.14, -0.01), (0.20, 0.06), (0.26, 0.21), (0.31, 0.01), (0.37, 0.04),
            (-1.02, -0.08), (-0.8, -0.06), (-0.58, -0.06), (-0.36, 0.06), (-0.13, 0.04), (0.09, -0.06),
            (-1.36, -0.06), (-1.13, -0.08), (-2.36, -0.13), (-2.19, -0.28), (-2.91, -0.57), (-0.7, 0.0),
            (-0.5, -0.02), (-0.25, -0.04), (0.0, 0.08), (0.25, -0.05), (-1.6, -0.05),
            (-1.5, -0.08), (-1.2, -0.02), (-1.0, 0.05), (-0.9, -0.03), (-0.7, 0.05), (-0.6, 0.08), (-0.45, -0.03),
            (-0.3, 0.05), (-0.2, -0.05), (-0.05, 0.1), (0.05, -0.05), (0.15, 0.05), (0.3, 0.08), (0.2, -0.03),
            (-0.4, 0.1), (-0.8, 0.12), (-1.75, -0.1), (-2.0, -0.2)]

MN_RED = [(-4.22, -0.60), (-4.0, -0.45), (-3.89, -0.57), (-3.82, -0.52), (-3.58, -0.25), (-3.49, -0.20),
          (-3.41, -0.28), (-3.36, -0.47), (-3.30, -0.35), (-3.24, -0.52), (-3.19, -0.40), (-3.16, -0.11),
          (-3.11, -0.33), (-3.08, -0.47), (-3.02, -0.38), (-2.97, -0.28), (-2.91, -0.45), (-2.86, -0.35),
          (-2.80, -0.50), (-2.74, -0.40), (-2.69, -0.57), (-2.58, -0.42), (-2.47, -0.38), (-2.11, -0.46),
          (-3.36, -0.38)]
MN_GREEN = [(-2.47, 0.13), (-3.74, -0.86), (-3.47, -0.94), (-3.16, -1.05), (-2.41, -0.52), (-2.11, -0.55)]
MN_BLACK = [(-3.89, 0.30), (-4.04, -1.08), (-3.93, -1.18), (-3.60, -1.06), (-3.49, -1.18), (-3.49, -1.24),
            (-3.82, -0.78), (-3.58, -0.74), (-3.47, -0.84), (-3.36, -0.72), (-3.24, -0.64), (-3.13, -0.69),
            (-3.02, -0.77), (-2.91, -0.72), (-2.86, -0.86), (-2.78, -0.67), (-2.69, -0.13), (-2.58, -0.18),
            (-2.52, -0.28), (-2.22, 0.07), (-2.19, -0.60), (-2.02, -0.52), (-1.91, -0.47), (-1.80, -0.57),
            (-1.69, -0.50), (-1.60, -0.73), (-1.58, -0.40), (-1.47, -0.52), (-1.41, -0.13), (-1.36, -0.47),
            (-1.30, -0.42), (-1.24, -0.28), (-1.19, -0.40), (-1.13, -0.35), (-1.08, -0.45), (-1.02, -0.30),
            (-0.97, -0.38), (-0.91, -0.25), (-0.86, -0.33), (-0.80, -0.18), (-0.74, -0.28), (-0.69, -0.11),
            (-0.63, -0.20), (-0.58, -0.08), (-0.52, -0.16), (-0.47, -0.03), (-0.41, -0.11), (-0.36, -0.01),
            (-0.30, -0.06), (-0.24, 0.04), (-0.19, 0.01), (-0.13, 0.11), (-0.08, 0.06), (-0.02, 0.16),
            (0.01, 0.44), (0.03, 0.11), (0.09, 0.21), (0.14, 0.14), (0.20, 0.26), (0.26, 0.19), (0.31, 0.33),
            (0.37, 0.16), (-0.69, -0.38), (-0.58, -0.28), (-0.80, -0.40), (-1.02, -0.42), (-0.36, -0.13),
            (-0.19, -0.08), (-1.13, -0.50), (-0.5, -0.25), (-0.3, -0.2), (-0.1, 0.0), (0.1, 0.05), (0.25, 0.3),
            (-0.85, -0.2), (-0.6, -0.15), (-0.45, -0.1), (-0.35, -0.05), (-0.25, 0.0), (-0.1, 0.05),
            (0.05, 0.15), (0.15, 0.2), (0.25, 0.25), (0.3, 0.3), (-0.75, -0.2), (-0.9, -0.3), (-1.05, -0.35)]

CO_RED = [(-4.24, 0.36), (-4.01, 0.33), (-3.91, 0.50), (-3.80, 0.57), (-3.59, 0.57), (-3.49, 0.17), (-3.44, 0.39),
          (-3.39, 0.32), (-3.33, 0.44), (-3.28, 0.24), (-3.23, 0.36), (-3.18, 0.19), (-3.13, 0.29), (-3.07, 0.41),
          (-3.07, -0.10), (-3.02, 0.17), (-2.97, 0.27), (-2.92, 0.12), (-2.86, 0.36), (-2.81, 0.22), (-2.71, 0.36),
          (-2.66, 0.29), (-2.50, 0.17), (-2.10, 0.36)]
CO_BLACK = [(-3.59, 0.99), (-3.49, 0.74), (-3.28, 0.73), (-3.13, 0.63), (-2.76, 0.70), (-3.85, 0.44), (-2.92, 0.58),
            (-2.73, 0.44), (-2.60, 0.02), (-2.55, 0.12), (-2.50, -0.02), (-2.45, 0.05), (-2.71, -0.17),
            (-2.60, -0.19), (-2.50, -0.19), (-2.45, -0.22), (-2.40, -0.15), (-2.29, -0.07), (-2.19, -0.17),
            (-2.14, -0.22), (-2.10, 0.19), (-2.03, -0.10), (-1.88, -0.17), (-1.75, 0.45), (-1.69, -0.29),
            (-1.61, -0.32), (-1.61, 0.34), (-1.58, 0.49), (-1.56, -0.07), (-1.51, -0.44), (-2.60, -0.60),
            (-2.40, -0.50), (-2.17, -0.58), (-2.0, -0.77), (-1.82, -0.60), (-1.61, -0.60), (-1.61, -0.91),
            (-2.73, -0.80), (-2.24, -0.81), (-1.46, -0.02), (-1.33, 0.15), (-1.25, -0.07), (-1.04, 0.24),
            (-1.02, -0.05), (-0.89, -0.07), (-0.78, 0.34), (-0.57, 0.51), (-0.57, 0.17), (-0.52, -0.05),
            (-0.42, -0.07), (-0.31, -0.12), (-0.21, -0.12), (-0.10, -0.02), (-0.05, 0.02), (0.0, 0.07),
            (0.05, -0.02), (0.08, 0.12), (0.10, 0.02), (0.16, -0.07), (0.19, 0.17), (0.21, 0.07), (0.26, 0.0),
            (0.31, 0.12), (0.36, 0.05), (0.42, 0.17), (0.05, -0.10), (0.26, 0.15), (0.0, -0.05), (0.15, 0.05),
            (0.3, 0.0), (0.1, 0.1)]

NI_RED = [(-4.24, -0.19), (-4.03, -0.10), (-3.91, -0.16), (-3.82, 0.07), (-3.61, 0.22), (-3.51, 0.02), (-3.41, 0.15),
          (-3.35, -0.07), (-3.30, 0.02), (-3.25, -0.22), (-3.20, 0.12), (-3.15, -0.05), (-3.09, -0.29),
          (-3.04, 0.05), (-2.99, -0.12), (-2.94, -0.02), (-2.89, 0.12), (-2.83, -0.19), (-2.78, -0.05),
          (-2.68, 0.15), (-2.62, -0.17), (-2.52, -0.07), (-2.10, 0.0), (-3.30, -0.12), (-3.09, 0.02)]
NI_BLACK = [(-3.46, 0.81), (-3.41, 0.60), (-3.35, 0.46), (-3.25, 0.49), (-2.78, 0.46), (-2.36, 0.68), (-2.36, 0.52),
            (-3.88, 0.19), (-3.04, 0.31), (-2.57, 0.32), (-2.73, 0.27), (-2.89, -0.45), (-2.62, -0.45),
            (-2.42, -0.39), (-2.57, -0.34), (-2.47, -0.24), (-2.31, -0.05), (-2.21, 0.07), (-2.16, -0.12),
            (-2.05, -0.02), (-2.0, 0.12), (-1.95, -0.07), (-1.90, 0.02), (-1.84, -0.15), (-1.79, 0.07),
            (-1.74, -0.05), (-1.69, 0.17), (-1.64, 0.0), (-1.58, -0.12), (-1.53, 0.05), (-1.48, -0.05),
            (-1.43, 0.10), (-1.38, 0.0), (-1.32, -0.07), (-1.27, 0.05), (-1.22, -0.02), (-1.17, 0.12),
            (-1.11, 0.02), (-1.06, -0.05), (-1.01, 0.07), (-0.96, 0.0), (-0.91, 0.10), (-0.85, -0.02),
            (-0.80, 0.05), (-0.75, -0.05), (-0.70, 0.07), (-0.65, 0.0), (-0.59, -0.22), (-0.54, -0.29),
            (-0.49, -0.05), (-0.44, -0.32), (-0.39, 0.07), (-0.33, -0.36), (-0.28, 0.0), (-0.23, 0.15),
            (-0.18, -0.05), (-0.12, 0.05), (-0.07, -0.22), (-0.02, 0.12), (0.03, 0.0), (0.08, 0.22),
            (0.14, -0.07), (0.19, 0.29), (0.24, 0.07), (0.29, -0.02), (0.34, 0.05), (-0.18, 0.39),
            (-0.39, -0.12), (-0.59, -0.07), (-0.80, -0.07), (-1.43, -0.12), (-2.05, -0.12), (-0.18, 0.07),
            (0.14, 0.07), (-0.02, -0.07), (-0.3, 0.1), (-0.1, -0.1), (0.2, -0.05), (-0.5, 0.05), (0.3, 0.12),
            (-1.7, -0.1), (-1.2, 0.1), (-1.6, 0.05), (-1.35, 0.07), (-1.15, -0.05), (-0.95, 0.05), (-0.75, 0.05),
            (-0.6, 0.02), (-0.45, 0.05), (-0.25, -0.05), (-0.15, 0.1), (0.0, 0.05), (0.1, -0.02), (0.25, 0.0),
            (-0.4, -0.2), (-0.3, -0.25), (-0.5, -0.15), (0.1, 0.15), (-1.0, -0.08), (-1.85, 0.05)]

CU_LIME = [(-0.92, 0.21), (-0.76, 0.17), (-0.70, 0.07), (-0.64, 0.02), (-0.59, 0.12), (-0.53, 0.19), (-0.48, 0.0),
           (-0.42, 0.10), (-0.37, 0.05), (-0.59, -0.05), (-0.81, -0.02), (-0.87, -0.15), (-0.98, -0.22),
           (-1.09, -0.29), (-1.20, -0.34), (-1.31, -0.41), (-1.42, -0.49), (-1.48, -0.53), (-1.59, -0.51),
           (-1.70, -0.58), (-1.81, -0.66), (-1.92, -0.61), (-2.03, -0.66), (-2.14, -0.61), (-2.26, -0.58),
           (-2.42, -0.61), (-2.53, -0.53), (-2.59, -0.65), (-1.87, -0.75), (-1.76, -0.97), (-1.48, -0.32),
           (-1.26, -0.22), (-1.03, -0.12), (-0.81, 0.07), (-0.68, 0.22), (-0.87, 0.15), (-2.14, -0.53),
           (-0.75, 0.0), (-0.65, -0.1), (-0.55, 0.05), (-0.7, 0.15), (-0.6, 0.2), (-0.5, 0.1), (-0.45, -0.05),
           (-0.85, 0.05)]
CU_CYAN = [(-3.03, -0.92), (-2.92, -0.97), (-2.81, -0.85), (-2.70, -1.07), (-2.59, -1.0), (-2.42, -0.92),
           (-2.26, -0.83), (-2.14, -0.70), (-1.98, -0.66), (-1.81, -0.46), (-1.59, -0.32), (-1.48, -0.39),
           (-1.26, -0.32), (-1.03, -0.10), (-0.92, -0.02), (-1.76, -0.56), (-2.03, -0.80)]
CU_MAGENTA = [(-3.06, -1.17), (-2.98, -1.13), (-2.64, -1.10), (-2.48, -1.02), (-2.31, -1.02), (-2.23, -1.17),
              (-2.14, -1.19), (-2.09, -1.24), (-1.92, -1.0), (-1.81, -1.12), (-1.59, -1.21), (-1.53, -1.19),
              (-2.26, -0.37), (-2.14, -0.92), (-1.98, -0.85), (-1.87, -1.0), (-1.64, -1.04), (-1.20, -1.0),
              (-2.37, -0.80)]
CU_BLACK = [(-2.76, -0.73), (-2.59, -0.95), (-2.42, -0.61), (-2.26, -0.53), (-2.14, -0.55), (-1.92, -0.58),
            (-1.81, -0.51), (-1.64, -0.46), (-1.48, -0.51), (-1.37, -0.56), (-1.26, -0.66), (-1.14, -0.41),
            (-1.37, -0.24), (-1.09, 0.02), (-0.98, -0.05), (-0.64, 0.10), (-0.59, -0.15), (-0.46, -0.11),
            (-0.14, -0.17), (-0.01, -0.02), (0.08, -0.10), (0.13, -0.15)]

ZN_RED = [(-4.24, 0.68), (-4.13, 0.69), (-3.91, 0.51), (-3.82, 0.44), (-3.80, 0.22), (-3.47, 0.68), (-3.63, 0.46),
          (-3.52, 0.41), (-3.41, 0.27), (-3.36, 0.34), (-3.30, 0.46), (-3.24, 0.24), (-3.19, 0.32), (-3.13, 0.17),
          (-3.08, 0.27), (-3.02, 0.36), (-2.97, 0.19), (-2.91, 0.12), (-2.86, 0.27), (-2.80, 0.17), (-2.74, 0.22),
          (-2.69, 0.12), (-2.63, 0.27), (-2.52, 0.17), (-2.41, 0.22), (-2.08, 0.0), (-3.36, 0.17), (-3.24, 0.41)]
ZN_BLACK = [(-3.02, 0.55), (-3.02, -0.36), (-3.02, -0.05), (-2.47, 0.27), (-2.36, 0.32), (-2.19, 0.35), (-2.08, 0.35),
            (-2.22, -0.36), (-2.13, 0.17), (-2.02, 0.07), (-1.97, 0.22), (-1.86, 0.47), (-1.74, 0.51),
            (-1.69, -0.46), (-1.52, -0.50), (-2.47, -0.05), (-2.36, 0.05), (-2.19, -0.05), (-2.08, -0.22),
            (-1.97, -0.12), (-1.91, -0.02), (-1.80, 0.07), (-1.74, -0.07), (-1.69, 0.02), (-1.63, -0.15),
            (-1.58, 0.12), (-1.52, -0.05), (-1.47, -0.22), (-1.41, 0.05), (-1.36, -0.07), (-1.30, 0.17),
            (-1.24, -0.15), (-1.19, 0.0), (-1.13, -0.27), (-1.08, 0.07), (-1.02, 0.22), (-0.97, -0.05),
            (-0.91, 0.15), (-0.86, 0.27), (-0.80, 0.07), (-0.74, 0.19), (-0.69, 0.32), (-0.63, 0.12),
            (-0.58, 0.22), (-0.52, 0.34), (-0.47, 0.17), (-0.80, -0.07), (-0.91, -0.19), (-0.63, -0.05),
            (-1.02, -0.15), (-0.52, -0.10), (-0.19, 0.12), (-2.13, -0.19), (-2.30, -0.15), (-0.7, 0.1),
            (-0.55, 0.05), (-0.85, 0.2)]
# typical uncertainty shown in the Zn panel
ZN_ERR_X = [-0.13]
ZN_ERR_Y = [-1.0]
ZN_ERR_DX = [0.07]
ZN_ERR_DY = [0.16]

ELEMENTS = ["C", "N", "O", "Na", "Mg", "Al", "Si", "S", "K", "Ca",
            "Sc", "Ti", "V", "Cr", "Mn", "Co", "Ni", "Cu", "Zn"]
SERIES = {
    "C": {"black": C_BLACK, "red": C_RED},
    "N": {"black": N_BLACK, "red": N_RED},
    "O": {"black": O_BLACK, "red": O_RED},
    "Na": {"black": NA_BLACK, "red": NA_RED},
    "Mg": {"black": MG_BLACK, "red": MG_RED, "green": MG_GREEN},
    "Al": {"black": AL_BLACK, "red": AL_RED, "green": AL_GREEN},
    "Si": {"black": SI_BLACK, "red": SI_RED, "green": SI_GREEN},
    "S": {"blue": S_BLUE, "cyan": S_CYAN},
    "K": {"black": K_BLACK, "red": K_RED},
    "Ca": {"black": CA_BLACK, "red": CA_RED, "green": CA_GREEN},
    "Sc": {"black": SC_BLACK, "red": SC_RED, "green": SC_GREEN, "cyan": SC_CYAN},
    "Ti": {"black": TI_BLACK, "red": TI_RED, "green": TI_GREEN},
    "V": {"black": V_BLACK},
    "Cr": {"black": CR_BLACK, "red": CR_RED, "green": CR_GREEN},
    "Mn": {"black": MN_BLACK, "red": MN_RED, "green": MN_GREEN},
    "Co": {"black": CO_BLACK, "red": CO_RED},
    "Ni": {"black": NI_BLACK, "red": NI_RED},
    "Cu": {"lime": CU_LIME, "cyan": CU_CYAN, "magenta": CU_MAGENTA, "cublack": CU_BLACK},
    "Zn": {"black": ZN_BLACK, "red": ZN_RED},
}

X_RANGE = [-4.65, 1.13]
Y_RANGE = [-1.46, 1.43]
X_TITLE = "[Fe/H]"
SIDE_TEXT = ["galactic", "evolution"]

# ---------------------------------------------------------------------------
# Styling and layout
# ---------------------------------------------------------------------------
W, H = 990, 881
COL_LEFT = [65, 250, 435, 620, 805]
COL_W = 185
ROW_TOP = [10 + r * 199.3 for r in range(4)]
ROW_H = 199.3

MARKERS = {
    "black": dict(color="black", size=4.5, symbol="circle"),
    "cublack": dict(color="black", size=4, symbol="circle"),
    "red": dict(color="#ee1a1a", size=9.5, symbol="circle"),
    "green": dict(color="#22902a", size=6.5, symbol="square"),
    "blue": dict(color="#1b1be0", size=3.8, symbol="circle"),
    "cyan": dict(color="#35d8e0", size=5, symbol="square"),
    "lime": dict(color="#3bdc3b", size=4.5, symbol="circle"),
    "magenta": dict(color="#cc30cc", size=4.5, symbol="circle"),
}

TICK_FONT = dict(family="DejaVu Sans", size=18, color="black")
LABEL_FONT = dict(family="DejaVu Serif", size=20, color="black", weight="bold")

fig = go.Figure()
layout = dict(
    width=W, height=H, margin=dict(l=0, r=0, t=0, b=0),
    paper_bgcolor="white", plot_bgcolor="white", showlegend=False,
)
shapes, annotations = [], []

for i, name in enumerate(ELEMENTS):
    r, c = divmod(i, 5)
    k = i + 1
    xs = "x" if k == 1 else f"x{k}"
    ys = "y" if k == 1 else f"y{k}"
    xname = "xaxis" if k == 1 else f"xaxis{k}"
    yname = "yaxis" if k == 1 else f"yaxis{k}"

    left = COL_LEFT[c] / W
    right = min((COL_LEFT[c] + COL_W) / W, 1.0)
    top = 1 - ROW_TOP[r] / H
    bottom = 1 - (ROW_TOP[r] + ROW_H) / H

    common = dict(
        showline=True, linewidth=2, linecolor="black", mirror="allticks",
        ticks="inside", tickwidth=1.5, tickcolor="black", ticklen=10,
        showgrid=False, zeroline=False, tickfont=TICK_FONT,
    )
    layout[xname] = dict(
        common, domain=[left, right], range=X_RANGE, anchor=ys,
        tick0=0, dtick=1, showticklabels=(r == 3), ticklabelstandoff=2,
        minor=dict(ticks="inside", dtick=0.2, tick0=0, ticklen=5, tickwidth=1, tickcolor="black", showgrid=False),
    )
    layout[yname] = dict(
        common, domain=[bottom, top], range=Y_RANGE, anchor=xs,
        tick0=0, dtick=0.5, showticklabels=(c == 0), ticklabelstandoff=0,
        minor=dict(ticks="inside", dtick=0.1, tick0=0, ticklen=5, tickwidth=1, tickcolor="black", showgrid=False),
    )

    # dashed reference lines at solar values
    dash = dict(color="#555555", width=1.2, dash="8px,6px")
    shapes.append(dict(type="line", xref=xs, yref=ys, x0=X_RANGE[0], x1=X_RANGE[1], y0=0, y1=0,
                       line=dash, layer="below"))
    shapes.append(dict(type="line", xref=xs, yref=ys, x0=0, x1=0, y0=Y_RANGE[0], y1=Y_RANGE[1],
                       line=dash, layer="below"))

    for key, pts in SERIES[name].items():
        fig.add_trace(go.Scatter(
            x=[p[0] for p in pts], y=[p[1] for p in pts], mode="markers",
            xaxis=xs, yaxis=ys, marker=dict(MARKERS[key], line=dict(width=0)),
            hoverinfo="skip", cliponaxis=True,
        ))

    annotations.append(dict(
        text=name, xref=xs, yref=ys, x=0.02, y=0.9, xanchor="left", yanchor="middle",
        showarrow=False, font=LABEL_FONT,
    ))

    if name == "Zn":
        fig.add_trace(go.Scatter(
            x=ZN_ERR_X, y=ZN_ERR_Y, mode="markers", xaxis=xs, yaxis=ys,
            marker=dict(size=1, color="black"), hoverinfo="skip",
            error_y=dict(type="data", array=ZN_ERR_DY, color="black", thickness=1.5, width=3),
            error_x=dict(type="data", array=ZN_ERR_DX, color="black", thickness=1.5, width=2),
        ))

annotations.append(dict(
    text=X_TITLE, xref="paper", yref="paper", x=724 / W, y=1 - 861 / H,
    xanchor="center", yanchor="middle", showarrow=False,
    font=dict(family="DejaVu Serif", size=27, color="black", weight="bold"),
))
for line, base in zip(SIDE_TEXT, [674, 749]):
    annotations.append(dict(
        text=line, xref="paper", yref="paper", x=857 / W, y=1 - base / H,
        xanchor="left", yanchor="middle", showarrow=False,
        font=dict(family="Liberation Serif", size=64, color="#128a12"),
    ))

layout["shapes"] = shapes
layout["annotations"] = annotations
fig.update_layout(**layout)
fig.write_html("out.html")
